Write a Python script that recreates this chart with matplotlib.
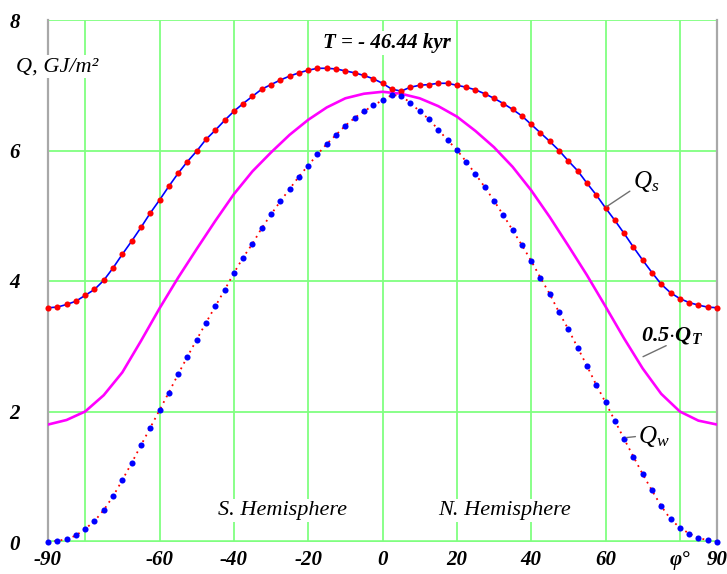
import numpy as np
from matplotlib import pyplot as plt

plt.rcParams['font.family'] = 'Liberation Serif'
plt.rcParams['mathtext.fontset'] = 'custom'
plt.rcParams['mathtext.rm'] = 'Liberation Serif'
plt.rcParams['mathtext.it'] = 'Liberation Serif:italic'
plt.rcParams['mathtext.bf'] = 'Liberation Serif:italic:bold'

# latitude grid of the computed points (deg)
lat = np.arange(-90, 90.1, 2.5)
lat_T = np.arange(-90, 90.1, 5)

# summer insolation Q_s (GJ/m2)
Q_s = [3.59, 3.60, 3.64, 3.69, 3.78, 3.87, 4.01, 4.20, 4.41, 4.61,
       4.82, 5.04, 5.24, 5.45, 5.65, 5.83, 5.99, 6.17, 6.31, 6.46,
       6.60, 6.72, 6.83, 6.94, 7.01, 7.08, 7.14, 7.19, 7.23, 7.26,
       7.26, 7.25, 7.22, 7.19, 7.15, 7.10, 7.03, 6.94, 6.91, 6.97,
       7.00, 7.01, 7.03, 7.03, 7.00, 6.97, 6.93, 6.87, 6.80, 6.72,
       6.63, 6.53, 6.40, 6.27, 6.14, 6.00, 5.84, 5.69, 5.50, 5.32,
       5.12, 4.93, 4.73, 4.52, 4.32, 4.13, 3.95, 3.82, 3.73, 3.67,
       3.63, 3.60, 3.59]

# winter insolation Q_w (GJ/m2)
Q_w = [0.00, 0.02, 0.04, 0.10, 0.20, 0.32, 0.49, 0.70, 0.95, 1.21,
       1.48, 1.75, 2.02, 2.29, 2.57, 2.84, 3.10, 3.36, 3.61, 3.86,
       4.12, 4.36, 4.57, 4.81, 5.02, 5.22, 5.41, 5.60, 5.77, 5.94,
       6.10, 6.24, 6.38, 6.50, 6.60, 6.69, 6.77, 6.85, 6.84, 6.73,
       6.60, 6.48, 6.32, 6.16, 6.01, 5.83, 5.64, 5.44, 5.23, 5.01,
       4.78, 4.55, 4.31, 4.05, 3.80, 3.52, 3.26, 2.98, 2.70, 2.41,
       2.14, 1.86, 1.58, 1.31, 1.04, 0.79, 0.55, 0.35, 0.22, 0.13,
       0.06, 0.03, 0.00]

# half of the annual insolation 0.5*Q_T (GJ/m2)
Q_T_half = [1.80, 1.87, 2.00, 2.25, 2.60, 3.08, 3.58, 4.05, 4.49, 4.92,
            5.33, 5.68, 5.97, 6.24, 6.47, 6.66, 6.80, 6.87, 6.90, 6.87,
            6.80, 6.68, 6.52, 6.30, 6.05, 5.75, 5.39, 4.98, 4.54, 4.09,
            3.61, 3.12, 2.66, 2.27, 2.00, 1.86, 1.80]

grid_x = [-80, -60, -40, -20, 0, 20, 40, 60, 80]
grid_y = [2, 4, 6, 8]
xtick_pos = [-90, -60, -40, -20, 0, 20, 40, 60, 80, 90]
xtick_lab = ['-90', '-60', '-40', '-20', '0', '20', '40', '60', 'φ°', '90']
ytick_pos = [0, 2, 4, 6, 8]

green = '#80ff80'

fig = plt.figure(figsize=(7.27, 5.74), dpi=100)
ax = fig.add_axes([48/727, 32/574, 669/727, 522/574])
ax.set_xlim(-90, 90)
ax.set_ylim(0, 8)

for x in grid_x:
    ax.axvline(x, color=green, lw=1.3, zorder=1)
for y in grid_y:
    ax.axhline(y, color=green, lw=1.3, zorder=1)
ax.axhline(0, color=green, lw=2.6, zorder=1)

ax.spines['top'].set_visible(False)
ax.spines['bottom'].set_visible(False)
for s in ['left', 'right']:
    ax.spines[s].set_color('#a8a8a8')
    ax.spines[s].set_linewidth(1.6)

# curves
ax.plot(lat, Q_s, '-', color='blue', lw=1.2, zorder=3)
ax.plot(lat, Q_s, 'o', color='red', ms=4.4, mec='none', zorder=4, clip_on=False)
ax.plot(lat_T, Q_T_half, '-', color='magenta', lw=1.9, zorder=3)
ax.plot(lat, Q_w, color='red', lw=1.3, ls=(0, (1, 2.5)), zorder=3)
ax.plot(lat, Q_w, 'o', color='blue', ms=4.4, mec='none', zorder=4, clip_on=False)

# ticks
ax.set_xticks(xtick_pos)
ax.set_xticklabels(xtick_lab)
ax.set_yticks(ytick_pos)
ax.set_yticklabels([str(v) for v in ytick_pos])
ax.tick_params(axis='x', length=0, pad=6, labelsize=15)
ax.tick_params(axis='y', length=0, pad=20, labelsize=15)
for lab in ax.get_xticklabels() + ax.get_yticklabels():
    lab.set_fontweight('bold')
    lab.set_fontstyle('italic')

wbox = dict(fc='white', ec='none', pad=1.5)

ax.text(-87.6, 7.28, 'Q, GJ/m²', ha='center', va='center', fontsize=16,
        style='italic', bbox=wbox, zorder=6, clip_on=False)
ax.text(1.2, 7.65, 'T = - 46.44 kyr', ha='center', va='center', fontsize=15,
        fontweight='bold', style='italic', bbox=wbox, zorder=5)
ax.text(-26.8, 0.49, 'S. Hemisphere', ha='center', va='center', fontsize=16,
        style='italic', bbox=wbox, zorder=5)
ax.text(32.9, 0.49, 'N. Hemisphere', ha='center', va='center', fontsize=16,
        style='italic', bbox=wbox, zorder=5)

lead = dict(arrowstyle='-', color='#707070', lw=1.0, shrinkA=0, shrinkB=0)
ax.annotate('$Q_s$', xy=(60.3, 5.14), xytext=(67.3, 5.52), ha='left', va='center',
            fontsize=18, zorder=5,
            arrowprops=dict(lead, relpos=(0.0, 0.2)))
ax.annotate(r'$\mathbf{0.5{\cdot}Q_T}$', xy=(70.1, 2.84), xytext=(78.0, 3.17),
            ha='center', va='center', fontsize=16, zorder=5,
            bbox=dict(fc='none', ec='none', pad=0),
            arrowprops=dict(lead, relpos=(0.4, 0.0)))
ax.annotate('$Q_w$', xy=(65.6, 1.60), xytext=(68.8, 1.62), ha='left', va='center',
            fontsize=18, zorder=5,
            arrowprops=dict(lead, relpos=(0.0, 0.5)))

fig.savefig('out.png', dpi=100)
